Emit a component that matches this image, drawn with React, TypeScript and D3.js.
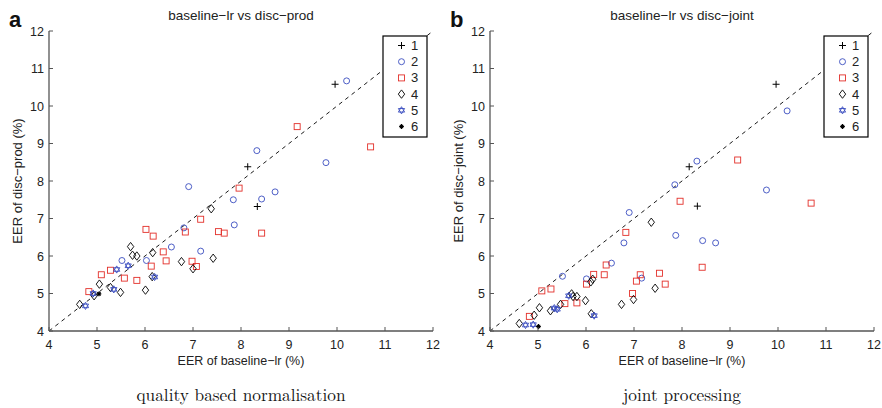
import React from "react";
import * as d3 from "d3";

// ---- data ----
const axisTicks = [4, 5, 6, 7, 8, 9, 10, 11, 12];
const legendLabels = ["1", "2", "3", "4", "5", "6"];

const prodClass1 = [[9.96, 10.58], [8.14, 8.38], [8.34, 7.32]];
const prodClass2 = [[10.2, 10.67], [8.33, 8.81], [9.77, 8.49], [6.91, 7.85], [8.71, 7.71], [8.43, 7.52], [7.84, 7.5], [7.86, 6.83], [6.81, 6.75], [6.55, 6.24], [7.16, 6.13], [5.52, 5.88], [6.03, 5.88]];
const prodClass3 = [[9.17, 9.45], [10.7, 8.91], [7.96, 7.81], [7.16, 6.98], [6.84, 6.64], [7.53, 6.65], [7.65, 6.61], [8.43, 6.61], [6.02, 6.71], [6.17, 6.53], [6.38, 6.11], [6.44, 5.87], [6.98, 5.86], [7.07, 5.72], [6.13, 5.73], [5.28, 5.62], [5.09, 5.5], [5.57, 5.41], [5.83, 5.35], [4.83, 5.05]];
const prodClass4 = [[7.38, 7.26], [6.76, 5.85], [7.42, 5.94], [7.0, 5.66], [5.7, 6.25], [5.74, 6.02], [5.83, 6.0], [6.16, 6.09], [6.15, 5.45], [6.01, 5.09], [5.05, 5.25], [5.28, 5.16], [5.49, 5.03], [4.94, 4.94], [4.64, 4.71]];
const prodClass5 = [[5.65, 5.74], [5.41, 5.64], [6.2, 5.44], [5.35, 5.11], [4.92, 5.0], [4.76, 4.67]];
const prodClass6 = [[5.04, 4.99]];

const jointClass1 = [[9.96, 10.58], [8.15, 8.38], [8.32, 7.33]];
const jointClass2 = [[10.19, 9.87], [8.31, 8.53], [7.85, 7.9], [9.76, 7.76], [6.9, 7.16], [6.79, 6.35], [7.87, 6.55], [8.43, 6.41], [8.7, 6.35], [6.53, 5.81], [5.51, 5.46], [6.01, 5.39], [7.16, 5.41]];
const jointClass3 = [[9.16, 8.56], [10.69, 7.41], [7.96, 7.46], [6.83, 6.63], [6.42, 5.76], [6.38, 5.5], [6.16, 5.51], [6.01, 5.25], [5.08, 5.07], [5.27, 5.12], [5.56, 4.73], [5.81, 4.75], [6.97, 5.0], [7.05, 5.33], [7.13, 5.5], [7.53, 5.54], [7.65, 5.25], [8.42, 5.7], [4.82, 4.39]];
const jointClass4 = [[7.36, 6.9], [6.14, 5.38], [6.1, 5.31], [5.03, 4.62], [5.26, 4.54], [5.47, 4.71], [5.7, 4.99], [5.73, 4.92], [5.81, 4.92], [5.99, 4.81], [6.11, 4.46], [6.74, 4.71], [6.99, 4.84], [7.44, 5.14], [4.92, 4.42], [4.61, 4.2]];
const jointClass5 = [[5.34, 4.61], [5.4, 4.58], [5.64, 4.94], [6.17, 4.41], [4.74, 4.16], [4.9, 4.17]];
const jointClass6 = [[5.01, 4.12]];

const panels = [
  {
    letter: "a",
    title: "baseline\u2212lr vs disc\u2212prod",
    ylabel: "EER of disc\u2212prod (%)",
    xlabel: "EER of baseline\u2212lr (%)",
    caption: "quality based normalisation",
    ox: 49,
    classes: [prodClass1, prodClass2, prodClass3, prodClass4, prodClass5, prodClass6],
  },
  {
    letter: "b",
    title: "baseline\u2212lr vs disc\u2212joint",
    ylabel: "EER of disc\u2212joint (%)",
    xlabel: "EER of baseline\u2212lr (%)",
    caption: "joint processing",
    ox: 490,
    classes: [jointClass1, jointClass2, jointClass3, jointClass4, jointClass5, jointClass6],
  },
];

const BLUE = "#3a4dbf";
const RED = "#e3302a";
const BLACK = "#000";

function Marker({ kind, x, y }: { kind: number; x: number; y: number }) {
  const sw = 0.9;
  switch (kind) {
    case 0:
      return (
        <path d={`M${x - 3.5},${y}H${x + 3.5}M${x},${y - 3.5}V${y + 3.5}`} stroke={BLACK} strokeWidth={1} fill="none" />
      );
    case 1:
      return <circle cx={x} cy={y} r={3} fill="none" stroke={BLUE} strokeWidth={sw} />;
    case 2:
      return <rect x={x - 3} y={y - 3} width={6} height={6} fill="none" stroke={RED} strokeWidth={sw} />;
    case 3:
      return (
        <path d={`M${x},${y - 4.2}L${x + 3.2},${y}L${x},${y + 4.2}L${x - 3.2},${y}Z`} fill="none" stroke={BLACK} strokeWidth={sw} />
      );
    case 4: {
      const r = 3.6;
      const t1 = [0, 1, 2].map((i) => [x + r * Math.sin((i * 2 * Math.PI) / 3), y - r * Math.cos((i * 2 * Math.PI) / 3)]);
      const t2 = [0, 1, 2].map((i) => [x + r * Math.sin((i * 2 * Math.PI) / 3 + Math.PI), y - r * Math.cos((i * 2 * Math.PI) / 3 + Math.PI)]);
      const p = (t: number[][]) => `M${t.map((q) => q.join(",")).join("L")}Z`;
      return <path d={p(t1) + p(t2)} fill="none" stroke={BLUE} strokeWidth={sw} />;
    }
    default: {
      const r = 2.4;
      return (
        <path
          d={`M${x - r},${y}H${x + r}M${x},${y - r}V${y + r}M${x - r * 0.7},${y - r * 0.7}L${x + r * 0.7},${y + r * 0.7}M${x - r * 0.7},${y + r * 0.7}L${x + r * 0.7},${y - r * 0.7}`}
          stroke={BLACK}
          strokeWidth={1.1}
          fill="none"
        />
      );
    }
  }
}

const W = 384;
const H = 300;
const OY = 31;

function Panel({ p }: { p: (typeof panels)[number] }) {
  const x = d3.scaleLinear().domain([4, 12]).range([0, W]);
  const y = d3.scaleLinear().domain([4, 12]).range([H, 0]);
  const axisColor = "#555";
  const font = "'Liberation Sans', Arial, sans-serif";
  const lgX = 334;
  const lgY = 5;
  return (
    <g>
      <text x={p.ox - 40} y={27} fontFamily={font} fontWeight="bold" fontSize={22} fill="#111">
        {p.letter}
      </text>
      <text x={p.ox + W / 2} y={20} textAnchor="middle" fontFamily={font} fontSize={13.5} fill="#222">
        {p.title}
      </text>
      <g transform={`translate(${p.ox},${OY})`}>
        {/* diagonal */}
        <line x1={x(4)} y1={y(4)} x2={x(12)} y2={y(12)} stroke="#000" strokeWidth={0.9} strokeDasharray="4,4" />
        {/* points */}
        {p.classes.map((pts, k) =>
          pts.map((d, i) => <Marker key={`${k}-${i}`} kind={k} x={x(d[0])} y={y(d[1])} />)
        )}
        {/* axes */}
        <line x1={0} y1={0} x2={0} y2={H} stroke={axisColor} strokeWidth={1.3} />
        <line x1={0} y1={H} x2={W} y2={H} stroke={axisColor} strokeWidth={1.3} />
        {axisTicks.map((t) => (
          <g key={`x${t}`}>
            <line x1={x(t)} x2={x(t)} y1={H} y2={H - 4} stroke={axisColor} strokeWidth={1} />
            <text x={x(t)} y={H + 18} textAnchor="middle" fontFamily={font} fontSize={12.5} fill="#222">
              {t}
            </text>
          </g>
        ))}
        {axisTicks.map((t) => (
          <g key={`y${t}`}>
            <line x1={0} x2={4} y1={y(t)} y2={y(t)} stroke={axisColor} strokeWidth={1} />
            <text x={-5} y={y(t) + 4.5} textAnchor="end" fontFamily={font} fontSize={12.5} fill="#222">
              {t}
            </text>
          </g>
        ))}
        <text x={W / 2} y={H + 34} textAnchor="middle" fontFamily={font} fontSize={12.5} fill="#222">
          {p.xlabel}
        </text>
        <text
          transform={`translate(${-27},${H / 2}) rotate(-90)`}
          textAnchor="middle"
          fontFamily={font}
          fontSize={13}
          fill="#222"
        >
          {p.ylabel}
        </text>
        {/* legend */}
        <rect x={lgX} y={lgY} width={44} height={101} fill="#fff" stroke="#000" strokeWidth={1.2} />
        {legendLabels.map((lab, k) => (
          <g key={lab}>
            <Marker kind={k} x={lgX + 18.5} y={lgY + 9.5 + k * 16.2} />
            <text x={lgX + 28} y={lgY + 14 + k * 16.2} fontFamily={font} fontSize={13} fill="#222">
              {lab}
            </text>
          </g>
        ))}
      </g>
      <text
        x={p.ox + W / 2}
        y={401}
        textAnchor="middle"
        fontFamily="'Latin Modern Roman', 'Liberation Serif', 'DejaVu Serif', serif"
        fontSize={17.3}
        fill="#111"
      >
        {p.caption}
      </text>
    </g>
  );
}

export default function App() {
  return (
    <svg width={882} height={408} style={{ position: "absolute", left: 0, top: 0, background: "#fff" }}>
      <rect width={882} height={408} fill="#fff" />
      {panels.map((p) => (
        <Panel key={p.letter} p={p} />
      ))}
    </svg>
  );
}
